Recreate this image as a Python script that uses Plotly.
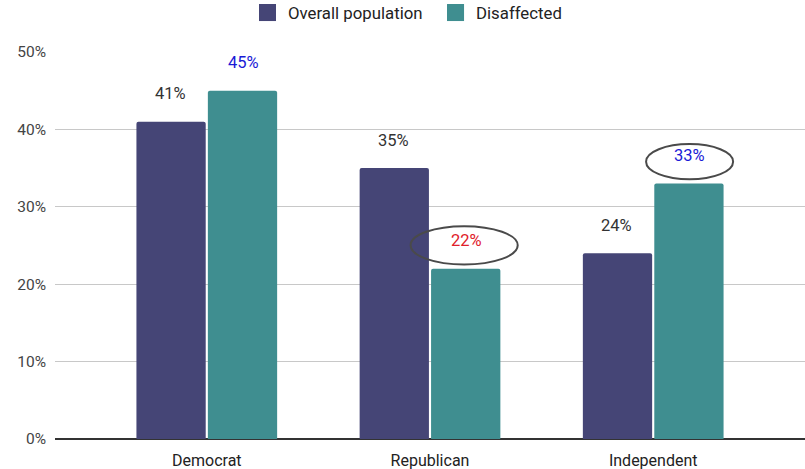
import plotly.graph_objects as go

# Share of respondents by party identification
categories = ["Democrat", "Republican", "Independent"]
overall = [41, 35, 24]
disaffected = [45, 22, 33]
overall_label_colors = ["#333333", "#333333", "#333333"]
disaffected_label_colors = ["#1a1ad6", "#e0202a", "#1a1ad6"]
highlighted = [False, True, True]   # disaffected values circled

y_ticks = [0, 10, 20, 30, 40, 50]
y_tick_text = ["0%", "10%", "20%", "30%", "40%", "50%"]

series_names = ["Overall population", "Disaffected"]
COLOR_OVERALL = "#454576"
COLOR_DISAFF = "#3f8e90"
FONT = "Roboto"

x_idx = list(range(len(categories)))

fig = go.Figure()
fig.add_trace(go.Bar(
    name=series_names[0], x=x_idx, y=overall, showlegend=False,
    marker=dict(color=COLOR_OVERALL, cornerradius=2, line=dict(width=0)),
))
fig.add_trace(go.Bar(
    name=series_names[1], x=x_idx, y=disaffected, showlegend=False,
    marker=dict(color=COLOR_DISAFF, cornerradius=2, line=dict(width=0)),
))

halo = "1px 0 1px #fff, -1px 0 1px #fff, 0 1px 1px #fff, 0 -1px 1px #fff"
offset = 0.163  # horizontal offset of each bar inside its group

annotations = []
shapes = []
for i, (o, d) in enumerate(zip(overall, disaffected)):
    annotations.append(dict(
        x=i - offset, y=o, text=f"{o}%", showarrow=False, yshift=28,
        font=dict(family=FONT, size=16.5, color=overall_label_colors[i], shadow=halo),
    ))
    annotations.append(dict(
        x=i + offset, y=d, text=f"{d}%", showarrow=False, yshift=28,
        font=dict(family=FONT, size=16.5, color=disaffected_label_colors[i], shadow=halo),
    ))
    if highlighted[i]:
        # ellipse drawn around the disaffected value label
        w = 0.24 if d < 30 else 0.195
        cx = i + offset - (0.01 if d < 30 else 0.0)
        shapes.append(dict(
            type="circle", xref="x", yref="y",
            x0=cx - w, x1=cx + w, y0=d + 0.55, y1=d + 5.5 if d < 30 else d + 5.1,
            line=dict(color="#4a4a4a", width=2), fillcolor="rgba(0,0,0,0)",
        ))

# Custom legend: square swatches with labels above the plot
legend_items = [(series_names[0], COLOR_OVERALL, 0.272), (series_names[1], COLOR_DISAFF, 0.5227)]
for name, color, x0 in legend_items:
    shapes.append(dict(
        type="rect", xref="paper", yref="paper",
        x0=x0, x1=x0 + 0.0227, y0=1.080, y1=1.124,
        fillcolor=color, line=dict(width=0),
    ))
    annotations.append(dict(
        xref="paper", yref="paper", x=x0 + 0.0227, y=1.102, xanchor="left", yanchor="middle",
        xshift=10, text=name, showarrow=False,
        font=dict(family=FONT, size=16.8, color="#222222"),
    ))

fig.update_layout(
    width=805, height=469,
    margin=dict(l=55, r=0, t=52, b=30),
    paper_bgcolor="white", plot_bgcolor="white",
    barmode="group", bargap=0.36, bargroupgap=0.03,
    font=dict(family=FONT, size=16, color="#222222"),
    showlegend=False,
    annotations=annotations,
    shapes=shapes,
)
fig.update_xaxes(
    range=[-0.68, 2.68], tickmode="array", tickvals=x_idx, ticktext=categories,
    showgrid=False, zeroline=False, showline=False,
    tickfont=dict(family=FONT, size=16, color="#222222"),
    ticklabelstandoff=10,
)
fig.update_yaxes(
    range=[0, 50], tickmode="array", tickvals=y_ticks, ticktext=y_tick_text,
    showgrid=True, gridcolor="#c8c8c8", gridwidth=1,
    zeroline=True, zerolinecolor="#333333", zerolinewidth=1.5,
    tickfont=dict(family=FONT, size=15.5, color="#444444"),
    ticklabelstandoff=8,
)

fig.write_html("out.html")
